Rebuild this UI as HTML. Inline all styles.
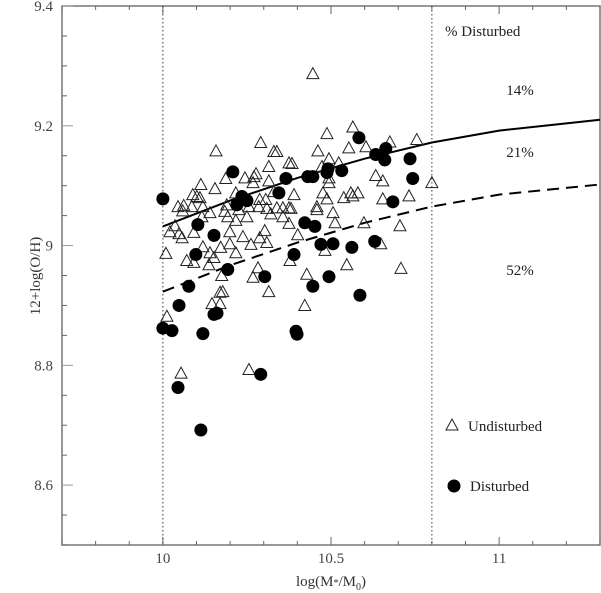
<!DOCTYPE html>
<html><head><meta charset="utf-8"><style>
html,body{margin:0;padding:0;background:#fff;}
svg{display:block;font-family:"Liberation Serif",serif;}
</style></head><body>
<svg id="chart" width="601" height="593" viewBox="0 0 601 593" xmlns="http://www.w3.org/2000/svg">
<rect x="0" y="0" width="601" height="593" fill="#fff"/>
<g id="axes"></g>
<g id="marks"></g>
<text x="0" y="0" transform="translate(40,276) rotate(-90)" text-anchor="middle" font-size="15" fill="#333">12+log(O/H)</text>
<text x="331" y="586" text-anchor="middle" font-size="15" fill="#333">log(M<tspan font-size="10" dy="0">*</tspan>/M<tspan font-size="10" dy="4">0</tspan><tspan dy="-4">)</tspan></text>
<text x="445" y="36" font-size="15" fill="#222">% Disturbed</text>
<text x="520" y="95" text-anchor="middle" font-size="15" fill="#222">14%</text>
<text x="520" y="157" text-anchor="middle" font-size="15" fill="#222">21%</text>
<text x="520" y="275" text-anchor="middle" font-size="15" fill="#222">52%</text>
<g>
<polygon points="452,419 458,430 446,430" fill="none" stroke="#222" stroke-width="1"/>
<text x="468" y="431" font-size="15" fill="#222">Undisturbed</text>
</g>
<g>
<circle cx="454" cy="486" r="6.5" fill="#000"/>
<text x="470" y="491" font-size="15" fill="#222">Disturbed</text>
</g>
</svg>
<script>
const xTicks=[10,10.5,11];
const xTickLabels=["10","10.5","11"];
const yTicks=[8.6,8.8,9,9.2,9.4];
const yTickLabels=["8.6","8.8","9","9.2","9.4"];
const undistX=[10.291,10.158,10.330,10.339,10.375,10.315,10.277,10.271,10.187,10.244,10.315,10.113,10.155,10.268,10.217,10.089,10.101,10.110,10.330,10.390,10.045,10.062,10.086,10.119,10.190,10.288,10.306,10.256,10.285,10.309,10.339,10.357,10.375,10.059,10.140,10.184,10.226,10.321,10.193,10.250,10.217,10.357,10.116,10.375,10.036,10.021,10.048,10.057,10.092,10.199,10.238,10.288,10.303,10.401,10.119,10.199,10.172,10.140,10.262,10.309,10.009,10.071,10.092,10.152,10.137,10.217,10.378,10.283,10.175,10.268,10.315,10.170,10.178,10.146,10.170,10.446,10.565,10.488,10.675,10.755,10.604,10.553,10.461,10.494,10.523,10.473,10.384,10.633,10.654,10.494,10.494,10.800,10.476,10.488,10.538,10.559,10.565,10.580,10.654,10.732,10.381,10.458,10.458,10.506,10.512,10.598,10.705,10.482,10.648,10.708,10.547,10.428,10.422,10.012,10.054,10.256];
const undistY=[9.172,9.158,9.157,9.157,9.138,9.132,9.120,9.115,9.112,9.113,9.108,9.102,9.095,9.105,9.088,9.085,9.082,9.080,9.090,9.085,9.065,9.067,9.065,9.065,9.068,9.077,9.077,9.065,9.065,9.062,9.063,9.063,9.063,9.058,9.055,9.057,9.060,9.053,9.048,9.048,9.042,9.048,9.048,9.037,9.033,9.023,9.020,9.013,9.022,9.023,9.015,9.013,9.025,9.018,8.998,9.003,8.997,8.988,9.002,9.005,8.987,8.975,8.972,8.980,8.968,8.988,8.975,8.963,8.950,8.947,8.923,8.922,8.923,8.903,8.903,9.287,9.198,9.187,9.173,9.177,9.165,9.163,9.158,9.145,9.138,9.132,9.137,9.117,9.108,9.113,9.105,9.105,9.088,9.078,9.080,9.088,9.083,9.088,9.078,9.083,9.062,9.065,9.060,9.055,9.038,9.038,9.033,8.992,9.003,8.962,8.968,8.952,8.900,8.882,8.787,8.793];
const distX=[10.000,10.208,10.366,10.345,10.235,10.250,10.220,10.104,10.152,10.098,10.390,10.193,10.303,10.077,10.048,10.161,10.152,10.583,10.633,10.663,10.660,10.735,10.743,10.491,10.488,10.532,10.431,10.446,10.684,10.422,10.452,10.470,10.506,10.562,10.630,10.494,10.446,10.586,10.000,10.027,10.119,10.396,10.399,10.291,10.045,10.113];
const distY=[9.078,9.123,9.112,9.088,9.082,9.075,9.068,9.035,9.017,8.985,8.985,8.960,8.948,8.932,8.900,8.887,8.885,9.180,9.152,9.162,9.143,9.145,9.112,9.128,9.122,9.125,9.115,9.115,9.073,9.038,9.032,9.002,9.003,8.997,9.007,8.948,8.932,8.917,8.862,8.858,8.853,8.857,8.852,8.785,8.763,8.692];
const curveX=[10,10.2,10.4,10.6,10.8,11,11.3];
const solidY=[9.032,9.075,9.113,9.145,9.172,9.192,9.210];
const dashedY=[8.923,8.967,9.005,9.038,9.065,9.085,9.102];
const cutX=[10,10.8];

const X0=62,X1=600,Y0=6,Y1=545,XMIN=9.7,XMAX=11.3,YMIN=8.5,YMAX=9.4;
function sx(v){return X0+(v-XMIN)/(XMAX-XMIN)*(X1-X0);}
function sy(v){return Y1-(v-YMIN)/(YMAX-YMIN)*(Y1-Y0);}
const NS="http://www.w3.org/2000/svg";
function mk(tag,attrs,parent){const e=document.createElementNS(NS,tag);for(const k in attrs)e.setAttribute(k,attrs[k]);parent.appendChild(e);return e;}
const axes=document.getElementById('axes'),marks=document.getElementById('marks');
let e=mk('rect',{x:X0,y:Y0,width:X1-X0,height:Y1-Y0,fill:'none',stroke:'#777','stroke-width':1.5},axes);


for(let i=0;i<=16;i++){const v=9.7+i*0.1;const x=sx(v);const major=Math.abs(v*2-Math.round(v*2))<1e-6;const L=major?8:4;
 e=mk('line',{x1:x,x2:x,y1:Y1,y2:Y1-L,stroke:'#666','stroke-width':1},axes);
 
 
 e=mk('line',{x1:x,x2:x,y1:Y0,y2:Y0+L,stroke:'#666','stroke-width':1},axes);
 
 }
for(let i=0;i<=18;i++){const v=8.5+i*0.05;const y=sy(v);const major=Math.abs(v*5-Math.round(v*5))<1e-6;const L=major?11:5;
 e=mk('line',{x1:X0,x2:X0+L,y1:y,y2:y,stroke:major?'#999':'#666','stroke-width':1},axes);
 
 }
xTicks.forEach((v,i)=>{e=mk('text',{x:sx(v),y:563,'text-anchor':'middle','font-size':15,fill:'#444'},axes);e.textContent=xTickLabels[i];
 
 });
yTicks.forEach((v,i)=>{e=mk('text',{x:53,y:sy(v)+5,'text-anchor':'end','font-size':15,fill:'#444'},axes);e.textContent=yTickLabels[i];
 
 });
cutX.forEach(v=>{e=mk('line',{x1:sx(v),x2:sx(v),y1:Y0,y2:Y1,stroke:'#333','stroke-width':1,'stroke-dasharray':'1.5,2.5'},marks);
 
 });
function pts(ys){return curveX.map((x,i)=>sx(x).toFixed(1)+','+sy(ys[i]).toFixed(1)).join(' ');}
e=mk('polyline',{points:pts(solidY),fill:'none',stroke:'#000','stroke-width':2},marks);


e=mk('polyline',{points:pts(dashedY),fill:'none',stroke:'#000','stroke-width':2,'stroke-dasharray':'12,7'},marks);


undistX.forEach((xv,i)=>{const x=sx(xv),y=sy(undistY[i]);
 e=mk('polygon',{points:`${x},${y-6} ${x+6},${y+5} ${x-6},${y+5}`,fill:'none',stroke:'#222','stroke-width':1},marks);
 
 });
distX.forEach((xv,i)=>{
 e=mk('circle',{cx:sx(xv),cy:sy(distY[i]),r:6.5,fill:'#000'},marks);
 
 });
</script>
</body></html>
